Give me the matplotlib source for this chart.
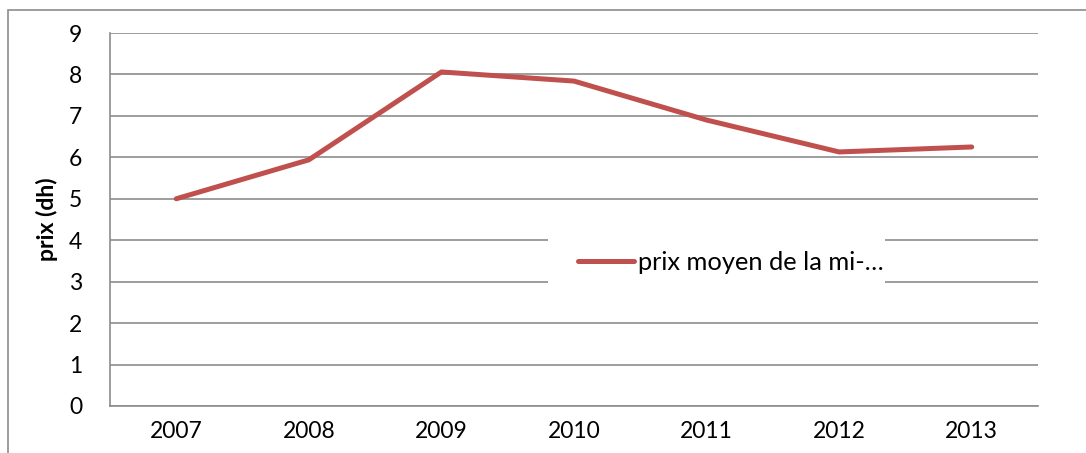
import matplotlib
matplotlib.use("Agg")
import matplotlib.pyplot as plt
from matplotlib.patches import Rectangle

plt.rcParams['font.family'] = ['Lato', 'DejaVu Sans']

# data
years = ['2007', '2008', '2009', '2010', '2011', '2012', '2013']
prix = [5.0, 5.94, 8.06, 7.84, 6.9, 6.13, 6.25]
serie = 'prix moyen de la mi-…'

W, H = 1086, 453
fig = plt.figure(figsize=(W / 100, H / 100), dpi=100)

# outer chart border (cropped on right and bottom)
fig.patches.append(Rectangle((8 / W, -0.1), 1.2, 1 - 10 / H + 0.1, transform=fig.transFigure,
                             fill=False, edgecolor='#8c8c8c', linewidth=1.2))

ax = fig.add_axes([110 / W, 1 - 406 / H, (1038 - 110) / W, (406 - 33) / H])
x = range(len(years))
ax.plot(x, prix, color='#C0504D', linewidth=3.6, solid_capstyle='round', label=serie, zorder=3)

ax.set_xlim(-0.5, len(years) - 0.5)
ax.set_ylim(0, 9)
ax.set_yticks(range(10))
ax.set_xticks(list(x))
ax.set_xticklabels(years)
ax.grid(axis='y', color='#8c8c8c', linewidth=1.2)
ax.set_axisbelow(True)
for s in ['top', 'right']:
    ax.spines[s].set_visible(False)
for s in ['left', 'bottom']:
    ax.spines[s].set_color('#8c8c8c')
    ax.spines[s].set_linewidth(1.2)
ax.tick_params(length=0, labelsize=16.5, pad=11)
ax.tick_params(axis='y', pad=20)
ax.set_ylabel('prix (dh)', fontsize=16.5, fontweight='bold', labelpad=8)

# white legend area hiding the gridlines behind it
ax.add_patch(Rectangle(((548 - 110) / 928, (406 - 292) / 373), (885 - 548) / 928, 62 / 373,
                       transform=ax.transAxes, facecolor='white', edgecolor='none', zorder=2))

leg = ax.legend(loc='center left', bbox_to_anchor=((578 - 110) / 928, (406 - 262) / 373),
                frameon=False, fontsize=18.3, handlelength=2.2, handletextpad=0.15,
                borderpad=0, borderaxespad=0)

fig.savefig('out.png', dpi=100)
